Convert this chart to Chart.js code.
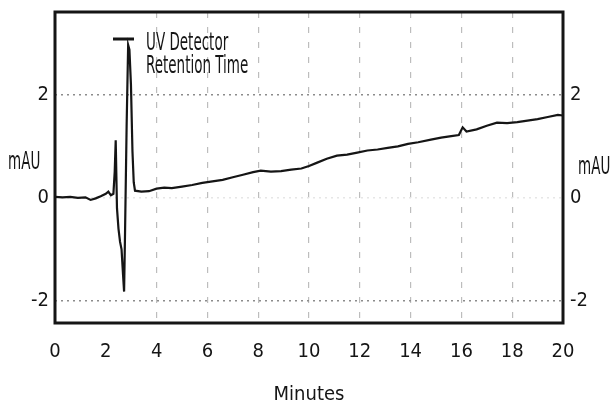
<!DOCTYPE html>
<html><head><meta charset="utf-8">
<script src="https://cdn.jsdelivr.net/npm/chart.js@4/dist/chart.umd.min.js"></script>
<style>html,body{margin:0;padding:0;background:#fff}#wrap{width:614px;height:410px}</style>
</head><body><div id="wrap"><canvas id="c" width="614" height="410"></canvas></div>
<script>
// ---- data ----
const minutes = [0,0.3,0.6,0.9,1.2,1.4,1.6,1.8,2.0,2.1,2.2,2.3,2.35,2.39,2.44,2.5,2.56,2.62,2.68,2.72,2.76,2.82,2.88,2.93,2.99,3.05,3.1,3.15,3.4,3.7,4.0,4.3,4.6,5.0,5.4,5.8,6.2,6.6,7.0,7.4,7.8,8.1,8.5,8.9,9.3,9.7,10.0,10.3,10.7,11.1,11.5,11.9,12.3,12.7,13.1,13.5,13.9,14.3,14.8,15.2,15.6,15.9,16.05,16.2,16.6,17.0,17.4,17.8,18.2,18.6,19.0,19.4,19.8,20.0];
const mAU = [0.02,0.01,0.02,0.0,0.01,-0.04,-0.01,0.03,0.08,0.12,0.05,0.08,0.5,1.12,-0.2,-0.6,-0.85,-1.0,-1.5,-1.82,-0.6,1.4,2.97,2.88,2.2,0.9,0.3,0.14,0.12,0.13,0.18,0.2,0.19,0.22,0.25,0.29,0.32,0.35,0.4,0.45,0.5,0.53,0.51,0.52,0.55,0.57,0.62,0.68,0.76,0.82,0.84,0.88,0.92,0.94,0.97,1.0,1.05,1.08,1.13,1.17,1.2,1.22,1.37,1.29,1.33,1.4,1.46,1.45,1.47,1.5,1.53,1.57,1.61,1.6];
const xTickValues = [0,2,4,6,8,10,12,14,16,18,20];
const yTickValues = [-2,0,2];
const legendLines = ['UV Detector','Retention Time'];
const xTitle = 'Minutes';
const yTitle = 'mAU';

const FONT = "'DejaVu Sans Condensed','Liberation Sans Narrow',sans-serif";
const INK = '#151515';

const setTicks = vals => scale => { scale.ticks = vals.map(v => ({value: v})); };

const decor = {
  id: 'decor',
  afterDatasetsDraw(chart) {
    const {ctx, chartArea: a} = chart;
    ctx.save();
    ctx.strokeStyle = INK;
    ctx.lineWidth = 3;
    ctx.strokeRect(a.left, a.top, a.right - a.left, a.bottom - a.top);
    // legend swatch
    ctx.beginPath();
    ctx.moveTo(a.left + 58, 39);
    ctx.lineTo(a.left + 79, 39);
    ctx.stroke();
    ctx.fillStyle = INK;
    ctx.font = '25px ' + FONT;
    ctx.textBaseline = 'alphabetic';
    const txt = (s, x, y) => { ctx.save(); ctx.translate(x, y); ctx.scale(0.6, 1); ctx.fillText(s, 0, 0); ctx.restore(); };
    txt(legendLines[0], a.left + 91, 50);
    txt(legendLines[1], a.left + 91, 73);
    // horizontal mAU labels on both sides
    txt(yTitle, 8, 169);
    txt(yTitle, a.right + 15, 174);
    ctx.restore();
  }
};

new Chart(document.getElementById('c'), {
  type: 'line',
  data: {
    datasets: [{
      label: legendLines.join(' '),
      data: minutes.map((t, i) => ({x: t, y: mAU[i]})),
      borderColor: INK,
      borderWidth: 2.2,
      pointRadius: 0,
      tension: 0,
      fill: false
    }]
  },
  options: {
    responsive: false,
    animation: false,
    layout: {padding: {top: 12, left: 0, right: 0, bottom: 0}},
    plugins: {legend: {display: false}, tooltip: {enabled: false}},
    scales: {
      x: {
        type: 'linear', position: 'bottom', min: 0, max: 20,
        afterBuildTicks: setTicks(xTickValues),
        afterFit: s => { s.height = 87; s.paddingLeft = 0; s.paddingRight = 0; },
        ticks: {color: INK, font: {family: FONT, size: 20}, padding: 17, maxRotation: 0, autoSkip: false},
        grid: {
          drawTicks: false, lineWidth: 1.2,
          color: c => (c.tick && [0, 2, 20].includes(c.tick.value)) ? 'rgba(0,0,0,0)' : '#bdbdbd'
        },
        border: {display: false, dash: [6, 9]},
        title: {display: true, text: xTitle, color: INK, font: {family: FONT, size: 20}, padding: {top: 0, bottom: 3}}
      },
      y: {
        type: 'linear', position: 'left', min: -2.43, max: 3.61,
        afterBuildTicks: setTicks(yTickValues),
        afterFit: s => { s.width = 55; s.paddingTop = 0; s.paddingBottom = 0; },
        ticks: {color: INK, font: {family: FONT, size: 20}, padding: 6},
        grid: {
          drawTicks: false, lineWidth: 1.5,
          color: c => (c.tick && c.tick.value === 0) ? '#e6e6e6' : '#8c8c8c'
        },
        border: {display: false, dash: [2, 4]}
      },
      y2: {
        type: 'linear', position: 'right', min: -2.43, max: 3.61,
        afterBuildTicks: setTicks(yTickValues),
        afterFit: s => { s.width = 51; s.paddingTop = 0; s.paddingBottom = 0; },
        ticks: {color: INK, font: {family: FONT, size: 20}, padding: 7},
        grid: {display: false, drawTicks: false},
        border: {display: false}
      }
    }
  },
  plugins: [decor]
});
</script>
</body></html>
